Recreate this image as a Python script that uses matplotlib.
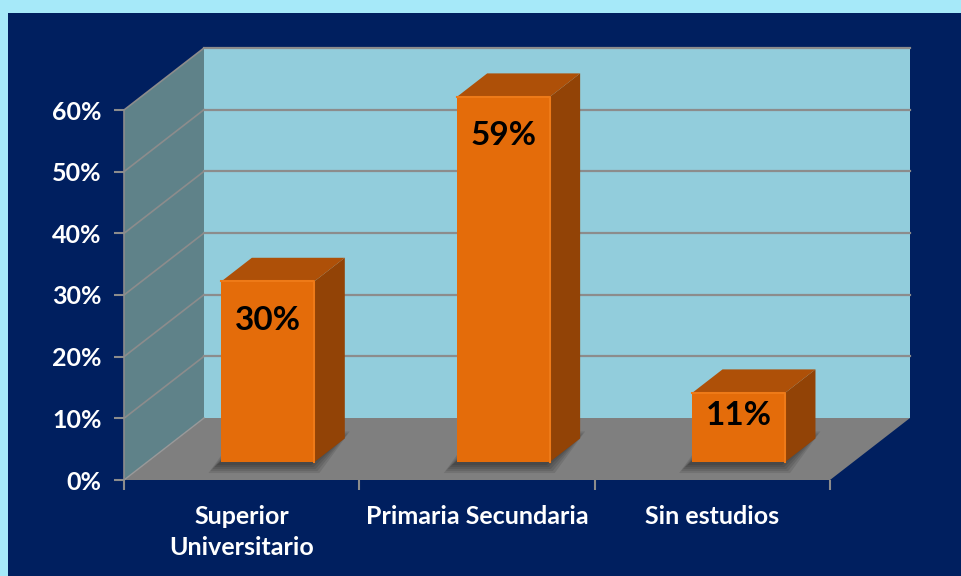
import numpy as np
import matplotlib.pyplot as plt
from matplotlib.patches import Polygon, Rectangle

# datos
categorias = ['Superior\nUniversitario', 'Primaria Secundaria', 'Sin estudios']
valores = [29.3, 59.2, 11.2]
etiquetas = ['30%', '59%', '11%']
ticks_y = [0, 10, 20, 30, 40, 50, 60]

plt.rcParams['font.family'] = ['Lato', 'DejaVu Sans']

# colores
fondo_claro = '#A6E9F9'
azul_oscuro = '#001F5F'
pared_fondo = '#92CDDC'
pared_lado = '#5F8289'
suelo = '#7F7F7F'
rejilla = '#8C8C8C'
naranja = '#E46C0A'
naranja_arriba = '#AE5008'
naranja_lado = '#924306'

fig = plt.figure(figsize=(9.61, 5.76), dpi=100, facecolor=fondo_claro)
fig.patches.append(Rectangle((8 / 961, 0), 1, 1 - 13 / 576, transform=fig.transFigure,
                             facecolor=azul_oscuro, edgecolor='none', zorder=-10))

ax = fig.add_axes([124 / 961, 96 / 576, 706 / 961, 370 / 576])
ax.set_facecolor('none')
n = len(categorias)
ymax = 60
ax.set_xlim(0, n)
ax.set_ylim(0, ymax)

# vector de profundidad (en unidades de datos)
DX = 80 / (706 / n)
DY = 62 / (370 / ymax)
px_x = n / 706
px_y = ymax / 370

def poly(pts, color, z, **kw):
    ax.add_patch(Polygon(pts, closed=True, facecolor=color, edgecolor='none',
                         zorder=z, clip_on=False, **kw))

# paredes y suelo
poly([(0, 0), (0, ymax), (DX, ymax + DY), (DX, DY)], pared_lado, 1)
poly([(DX, DY), (n + DX, DY), (n + DX, ymax + DY), (DX, ymax + DY)], pared_fondo, 1)
poly([(0, 0), (n, 0), (n + DX, DY), (DX, DY)], suelo, 1)

for v in ticks_y[1:]:
    ax.plot([DX, n + DX], [v + DY, v + DY], color=rejilla, lw=1.6, zorder=2, clip_on=False)
    ax.plot([0, DX], [v, v + DY], color=rejilla, lw=1.2, zorder=2, clip_on=False)
ax.plot([0, DX], [0, DY], color='#9A9A9A', lw=1, zorder=2, clip_on=False)

# barras 3D
ancho = 0.395
z0, dz = 0.29, 0.38
for i, (v, lab) in enumerate(zip(valores, etiquetas)):
    xl = i + 0.5 - ancho / 2 + z0 * DX + 0.013
    xr = xl + ancho
    yb = z0 * DY
    yt = yb + v
    # sombra difusa
    for e in [9, 7, 5, 3, 1]:
        ex, ey = e * px_x, e * px_y
        sx, sy = -4 * px_x, -2 * px_y
        poly([(xl - ex + sx, yb - ey + sy), (xr + ex + sx, yb - ey + sy),
              (xr + dz * DX + ex + sx, yb + dz * DY + ey + sy),
              (xl + dz * DX - ex + sx, yb + dz * DY + ey + sy)], 'black', 3, alpha=0.1)
    poly([(xr, yb), (xr, yt), (xr + dz * DX, yt + dz * DY), (xr + dz * DX, yb + dz * DY)],
         naranja_lado, 4)
    poly([(xl, yt), (xr, yt), (xr + dz * DX, yt + dz * DY), (xl + dz * DX, yt + dz * DY)],
         naranja_arriba, 4)
    poly([(xl, yb), (xr, yb), (xr, yt), (xl, yt)], naranja, 5)
    ax.plot([xl, xr, xr], [yt, yt, yb], color='#EE7A18', lw=1.5, zorder=5.5, clip_on=False)
    ax.text((xl + xr) / 2, yt - min(6.3, v * 0.32), lab, ha='center', va='center',
            fontsize=24, fontweight='bold', color='black', zorder=6)

# ejes
for s in ['top', 'right', 'bottom']:
    ax.spines[s].set_visible(False)
ax.spines['left'].set_color(rejilla)
ax.spines['left'].set_linewidth(1.2)
ax.spines['left'].set_zorder(3)

ax.set_yticks(ticks_y)
ax.set_yticklabels([f'{t}%' for t in ticks_y])
ax.tick_params(axis='y', colors=rejilla, length=7, width=1.5, pad=9)
for t in ax.get_yticklabels():
    t.set_color('white')
    t.set_fontweight('bold')
    t.set_fontsize(18)

ax.set_xticks(np.arange(n) + 0.5)
ax.set_xticklabels(categorias, fontsize=18, fontweight='bold', color='white', linespacing=1.4)
ax.set_xticks(np.arange(n + 1), minor=True)
ax.tick_params(axis='x', which='major', length=0, pad=18)
ax.tick_params(axis='x', which='minor', length=7, width=1.5, colors=rejilla)

fig.savefig('out.png', dpi=100, facecolor=fondo_claro)
